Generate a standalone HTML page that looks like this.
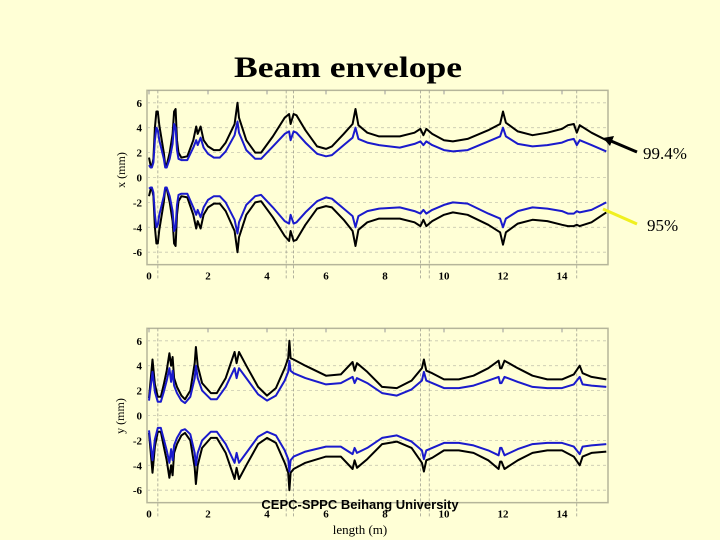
<!DOCTYPE html>
<html><head><meta charset="utf-8"><style>
body{margin:0;background:#ffffd6;}
svg{display:block;}
text{font-family:"Liberation Serif",serif;}
</style></head><body>
<svg id="c" width="720" height="540" viewBox="0 0 720 540">
<rect x="0" y="0" width="720" height="540" fill="#ffffd6"/>
<text x="234" y="77" font-size="30" font-weight="bold" textLength="228" lengthAdjust="spacingAndGlyphs">Beam envelope</text>
<text x="125" y="170" text-anchor="middle" font-size="12" transform="rotate(-90 125 170)">x (mm)</text>
<text x="124" y="416" text-anchor="middle" font-size="12" transform="rotate(-90 124 416)">y (mm)</text>
<text x="360" y="534" text-anchor="middle" font-size="13">length (m)</text>
<g id="top"></g>
<g id="bot"></g>
<line x1="637" y1="152" x2="611" y2="141" stroke="#000" stroke-width="3"/>
<polygon points="603,138 614,136 610,146" fill="#000"/>
<text x="643" y="159" font-size="17">99.4%</text>
<line x1="637" y1="224" x2="603" y2="209" stroke="#f0f020" stroke-width="3"/>
<text x="647" y="231" font-size="17">95%</text>
<text x="360" y="509" text-anchor="middle" font-size="13" font-weight="bold" style="font-family:'Liberation Sans',sans-serif">CEPC-SPPC Beihang University</text>
</svg>
<script>
const ticksX=[0,2,4,6,8,10,12,14];
const ticksY=[-6,-4,-2,0,2,4,6];
const markers=[0.3,4.65,4.9,9.2,9.5,14.5];

const sTop=[0,0.05,0.1,0.15,0.2,0.25,0.3,0.35,0.5,0.55,0.6,0.7,0.8,0.85,0.9,0.95,1.0,1.1,1.3,1.5,1.6,1.65,1.75,1.85,2.0,2.2,2.4,2.6,2.9,3.0,3.05,3.3,3.6,3.8,4.2,4.6,4.75,4.8,4.9,5.0,5.3,5.7,6.0,6.2,6.6,6.9,7.0,7.1,7.4,7.8,8.5,9.0,9.2,9.3,9.4,9.6,10.0,10.3,10.8,11.5,11.9,12.0,12.1,12.5,13.0,13.5,14.0,14.2,14.4,14.5,14.6,15.0,15.5];
const xBlackUp=[1.6,1.0,0.9,1.5,4.0,5.3,5.3,4.2,2.0,1.0,1.0,2.0,3.5,5.3,5.5,3.0,2.0,1.6,1.7,3.0,4.1,3.5,4.1,3.0,2.5,2.2,2.2,2.8,4.3,6.0,4.8,3.0,2.0,2.0,3.3,4.8,5.1,4.3,5.1,5.0,3.8,2.5,2.3,2.5,3.5,4.3,5.5,4.2,3.6,3.3,3.3,3.6,3.9,3.4,3.9,3.5,3.0,2.9,3.1,3.8,4.3,5.3,4.4,3.7,3.4,3.6,3.9,4.2,4.3,3.6,4.2,3.6,3.0];
const xBlueUp=[1.0,0.8,0.8,1.2,3.0,4.0,3.8,3.0,1.5,0.8,0.8,1.5,2.7,4.3,4.0,2.2,1.5,1.4,1.4,2.4,3.0,2.6,3.2,2.4,1.9,1.6,1.6,2.1,3.4,4.5,3.6,2.2,1.5,1.5,2.5,3.5,3.7,3.0,3.7,3.6,2.8,1.9,1.7,1.8,2.6,3.2,4.0,3.1,2.8,2.6,2.4,2.7,2.9,2.6,2.9,2.6,2.2,2.1,2.2,2.9,3.3,4.0,3.3,2.7,2.5,2.6,2.8,3.0,3.1,2.6,3.0,2.6,2.1];
const xBlackDn=[-1.5,-1.0,-0.9,-1.5,-4.0,-5.3,-5.3,-4.2,-2.0,-0.9,-0.9,-2.0,-3.5,-5.3,-5.5,-3.0,-1.9,-1.5,-1.6,-3.0,-4.1,-3.5,-4.1,-3.0,-2.4,-2.1,-2.1,-2.7,-4.3,-6.0,-4.8,-3.0,-2.0,-1.9,-3.2,-4.7,-5.1,-4.3,-5.1,-5.0,-3.8,-2.5,-2.3,-2.4,-3.4,-4.3,-5.5,-4.2,-3.6,-3.3,-3.3,-3.6,-3.9,-3.4,-3.9,-3.5,-3.0,-2.8,-3.0,-3.8,-4.4,-5.4,-4.4,-3.7,-3.4,-3.5,-3.8,-3.9,-3.9,-3.8,-3.9,-3.6,-2.8];
const xBlueDn=[-0.9,-0.8,-0.8,-1.2,-3.0,-4.0,-3.8,-3.0,-1.5,-0.8,-0.8,-1.5,-2.7,-4.3,-4.0,-2.2,-1.4,-1.3,-1.3,-2.4,-3.0,-2.6,-3.2,-2.4,-1.8,-1.5,-1.5,-2.0,-3.4,-4.5,-3.6,-2.2,-1.5,-1.4,-2.4,-3.5,-3.7,-3.0,-3.7,-3.6,-2.8,-1.9,-1.6,-1.7,-2.5,-3.1,-4.0,-3.1,-2.7,-2.5,-2.4,-2.7,-2.9,-2.6,-2.9,-2.6,-2.2,-2.0,-2.1,-2.9,-3.3,-4.0,-3.3,-2.7,-2.4,-2.5,-2.7,-2.9,-2.9,-2.7,-2.8,-2.6,-2.0];

const sBot=[0,0.12,0.2,0.3,0.4,0.5,0.6,0.69,0.75,0.8,0.85,0.95,1.1,1.22,1.4,1.55,1.59,1.65,1.8,2.1,2.3,2.6,2.9,2.97,3.05,3.3,3.7,4.0,4.3,4.6,4.72,4.76,4.8,4.9,5.3,6.0,6.5,6.9,6.97,7.05,7.4,7.9,8.4,8.9,9.25,9.32,9.4,9.6,10.0,10.5,11.0,11.5,11.85,11.9,11.95,12.05,12.5,13.0,13.5,14.0,14.4,14.6,14.7,15.0,15.5];
const yBlackUp=[1.4,4.5,2.5,1.5,1.5,2.5,3.6,5.0,4.0,4.7,3.0,2.3,1.6,1.3,2.0,4.2,5.5,4.0,2.6,1.8,1.8,3.0,5.1,4.2,5.1,4.0,2.3,1.6,2.2,3.8,4.6,6.0,4.6,4.5,4.0,3.2,3.3,4.3,3.6,4.2,3.5,2.3,2.2,2.8,3.8,4.5,3.6,3.4,2.9,2.9,3.2,3.8,4.4,3.8,3.8,4.4,3.8,3.2,2.9,2.9,3.3,4.0,3.4,3.1,2.9];
const yBlueUp=[1.2,3.5,1.9,1.1,1.1,1.9,2.8,3.8,2.7,3.6,2.4,1.8,1.2,1.0,1.5,3.0,4.0,3.0,2.0,1.3,1.3,2.3,3.8,3.0,3.8,3.0,1.7,1.2,1.6,2.8,3.5,4.4,3.6,3.4,3.0,2.5,2.6,3.1,2.6,3.0,2.6,1.8,1.6,2.1,2.8,3.5,2.8,2.6,2.2,2.2,2.4,2.8,3.1,2.6,2.6,3.1,2.7,2.3,2.2,2.2,2.5,3.1,2.5,2.4,2.3];
const yBlackDn=[-1.4,-4.6,-2.5,-1.3,-1.3,-2.5,-3.6,-5.0,-4.0,-4.8,-3.0,-2.3,-1.6,-1.4,-2.0,-4.2,-5.5,-4.0,-2.6,-1.8,-1.8,-3.0,-5.1,-4.2,-5.1,-4.0,-2.3,-1.8,-2.2,-3.8,-4.6,-6.0,-4.6,-4.3,-3.8,-3.3,-3.3,-4.3,-3.6,-4.2,-3.5,-2.3,-2.1,-2.6,-3.8,-4.5,-3.6,-3.4,-2.8,-2.8,-3.0,-3.6,-4.3,-3.7,-3.7,-4.3,-3.6,-3.0,-2.8,-2.8,-3.3,-4.0,-3.3,-3.0,-2.9];
const yBlueDn=[-1.2,-3.6,-1.9,-1.0,-1.0,-1.9,-2.8,-3.8,-2.7,-3.6,-2.4,-1.8,-1.2,-1.1,-1.5,-3.0,-4.0,-3.0,-2.0,-1.3,-1.3,-2.3,-3.8,-3.0,-3.8,-3.0,-1.7,-1.3,-1.6,-2.8,-3.5,-4.5,-3.6,-3.3,-2.9,-2.5,-2.5,-3.1,-2.6,-3.0,-2.6,-1.8,-1.6,-2.1,-2.8,-3.5,-2.8,-2.6,-2.2,-2.2,-2.4,-2.8,-3.2,-2.6,-2.6,-3.2,-2.7,-2.3,-2.2,-2.2,-2.5,-3.1,-2.5,-2.4,-2.3];

const NS='http://www.w3.org/2000/svg';
function mk(tag,attrs,parent){const e=document.createElementNS(NS,tag);for(const k in attrs)e.setAttribute(k,attrs[k]);parent.appendChild(e);return e;}

function plot(g,y0,prefix,s,series){
  const X0=149, XS=29.5, PX=12.45;
  const sx=v=>X0+v*XS;
  const sy=v=>y0-v*PX;
  const fr=mk('rect',{x:147,y:sy(7),width:461,height:14*PX,fill:'none',stroke:'#b5b59a','stroke-width':1.5},g);
  
  
  ticksY.forEach(t=>{
    const gl=mk('line',{x1:147,x2:608,y1:sy(t),y2:sy(t),stroke:'#c8c8b0','stroke-width':0.8,'stroke-dasharray':'3,3'},g);
    
    
    const tl=mk('text',{x:142,y:sy(t)+4,'text-anchor':'end','font-size':11,'font-weight':'bold'},g);
    tl.textContent=t;
    
    
  });
  ticksX.forEach(t=>{
    const tk=mk('line',{x1:sx(t),x2:sx(t),y1:sy(7),y2:sy(7)+4,stroke:'#999'},g);
    
    
    const tl=mk('text',{x:sx(t),y:sy(-7)+15,'text-anchor':'middle','font-size':11,'font-weight':'bold'},g);
    tl.textContent=t;
    
    
  });
  markers.forEach(m=>{
    const ml=mk('line',{x1:sx(m),x2:sx(m),y1:sy(7),y2:sy(-7)+14,stroke:'#a0a090','stroke-width':0.8,'stroke-dasharray':'3,2'},g);
    
    
  });
  series.forEach(se=>{
    const pts=s.map((v,i)=>sx(v).toFixed(1)+','+sy(se.v[i]).toFixed(1)).join(' ');
    const pl=mk('polyline',{points:pts,fill:'none',stroke:se.c,'stroke-width':2,'stroke-linejoin':'round'},g);
    
    
  });
}
plot(document.getElementById('top'),177.5,'x',sTop,[
 {v:xBlackUp,c:'#000',n:'envelope-99-upper'},{v:xBlueUp,c:'#1a1acc',n:'envelope-95-upper'},
 {v:xBlackDn,c:'#000',n:'envelope-99-lower'},{v:xBlueDn,c:'#1a1acc',n:'envelope-95-lower'}]);
plot(document.getElementById('bot'),415.5,'y',sBot,[
 {v:yBlackUp,c:'#000',n:'envelope-99-upper'},{v:yBlueUp,c:'#1a1acc',n:'envelope-95-upper'},
 {v:yBlackDn,c:'#000',n:'envelope-99-lower'},{v:yBlueDn,c:'#1a1acc',n:'envelope-95-lower'}]);
</script>
</body></html>
